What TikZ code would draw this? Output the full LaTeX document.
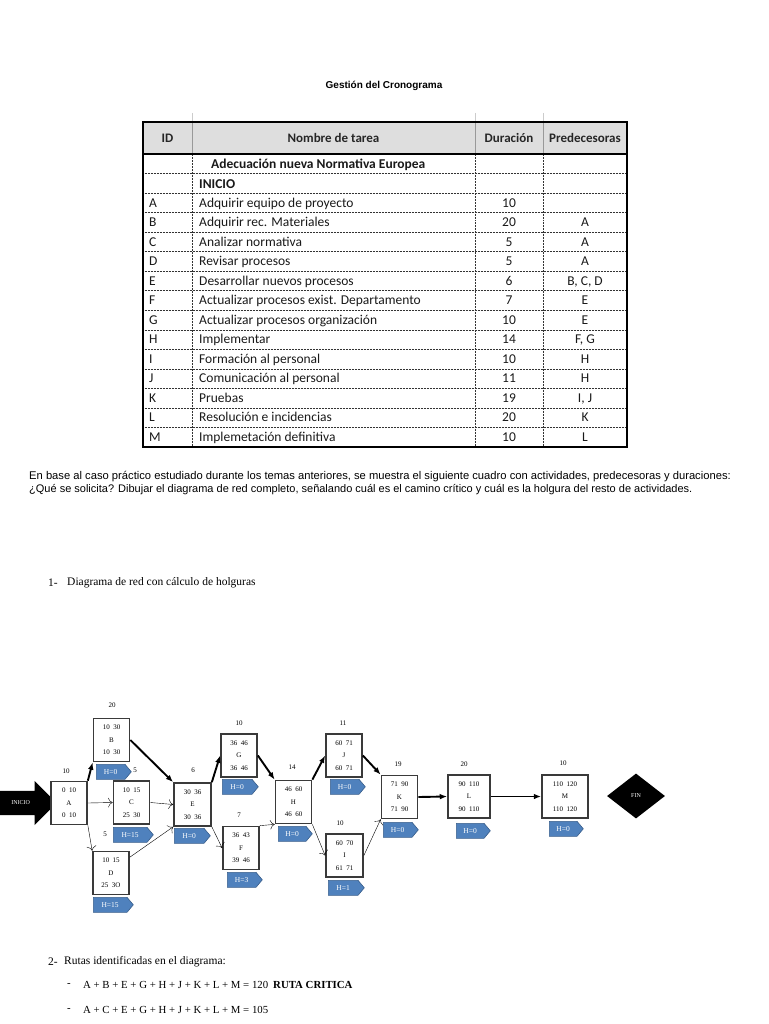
\documentclass[tikz,border=0pt]{standalone}
\usepackage{fontspec}
\setmainfont{Liberation Serif}
\newfontfamily\tablafont{Carlito}
\newfontfamily\textofont{Liberation Sans}
\usetikzlibrary{arrows.meta, positioning, shapes.geometric, shapes.symbols, shapes.arrows}
\definecolor{tagazul}{HTML}{4F81BD}
\definecolor{tagborde}{HTML}{385D8A}
\definecolor{cabecera}{HTML}{DEDEDE}
\definecolor{cajaborde}{HTML}{3A3A3A}

\begin{document}
\begin{tikzpicture}[
    x=1pt,
    y=-1pt,
    font=\fontsize{7}{8}\selectfont,
    tarea/.style={draw=cajaborde, line width=1.7pt, fill=white, minimum height=43pt,
      inner sep=0pt, align=center, font=\fontsize{7}{12.5}\selectfont},
    holgura/.style={signal, signal to=east, signal pointer angle=100, fill=tagazul,
      draw=tagborde, line width=0.6pt, text=white, minimum height=15pt, inner sep=0pt,
      anchor=north west, font=\fontsize{7.5}{8}\selectfont},
    critica/.style={-{Latex[length=2.6mm, width=2mm]}, line width=1.9pt},
    normal/.style={-{To[length=1.6mm]}, line width=0.4pt},
    celda/.style={font=\tablafont\fontsize{13.5}{15}\selectfont, inner sep=0pt, text=black!90,
      text height=8.5pt, text depth=0pt},
    cabeza/.style={font=\tablafont\bfseries\fontsize{13}{15}\selectfont, inner sep=0pt, text=black!85,
      text height=8.5pt, text depth=0pt},
    rejilla/.style={densely dotted, line width=0.5pt, black!80},
    serifa/.style={anchor=west, inner sep=0pt, font=\fontsize{11.5}{14}\selectfont},
    ruta/.style={anchor=west, inner sep=0pt, font=\fontsize{10.8}{13}\selectfont}
  ]
  \useasboundingbox (0,0) rectangle (768,1024);
  \node[font=\textofont\bfseries\fontsize{10}{12}\selectfont] (titulo) at (384,86) {Gestión del Cronograma};

  \foreach \x in {192,475,543}
    \draw[black!20] (\x,113) -- (\x,122);
  \fill[cabecera] (143,122) rectangle (627,154);
  \foreach \x in {192,475,543} {
    \draw[black!40] (\x,122) -- (\x,154);
    \draw[rejilla] (\x,154) -- (\x,447);
  }
  \foreach \i in {1,...,14}
    \draw[rejilla] (143,{154+\i*19.53}) -- (627,{154+\i*19.53});
  \draw[line width=1.5pt] (143,154) -- (627,154);
  \draw[line width=2pt] (143,122) rectangle (627,447);
  \node[cabeza] (hid) at (167.5,138) {ID};
  \node[cabeza] (hnom) at (333.5,138) {Nombre de tarea};
  \node[cabeza] (hdur) at (509,138) {Duración};
  \node[cabeza] (hpre) at (585,138) {Predecesoras};
  \node[celda, font=\tablafont\bfseries\fontsize{13.5}{15}\selectfont, anchor=west] (proyecto) at (211,164) {Adecuación nueva Normativa Europea};
  \node[celda, font=\tablafont\bfseries\fontsize{13.5}{15}\selectfont, anchor=west] (tinicio) at (199,184) {INICIO};
  \foreach \id/\nom/\dur/\pre [count=\r from 3] in {A/Adquirir equipo de proyecto/10/,
      B/Adquirir rec. Materiales/20/A, C/Analizar normativa/5/A, D/Revisar procesos/5/A,
      E/Desarrollar nuevos procesos/6/{B, C, D}, F/Actualizar procesos exist. Departamento/7/E,
      G/Actualizar procesos organización/10/E, H/Implementar/14/{F, G},
      I/Formación al personal/10/H, J/Comunicación al personal/11/H, K/Pruebas/19/{I, J},
      L/Resolución e incidencias/20/K, M/Implemetación definitiva/10/L} {
    \node[celda, anchor=west] (tid\id) at (149,{154+(\r-0.5)*19.53}) {\id};
    \node[celda, anchor=west] (tnom\id) at (199,{154+(\r-0.5)*19.53}) {\nom};
    \node[celda] (tdur\id) at (509,{154+(\r-0.5)*19.53}) {\dur};
    \node[celda] (tpre\id) at (585,{154+(\r-0.5)*19.53}) {\pre};
  }

  \node[anchor=west, inner sep=0pt, font=\textofont\fontsize{11.2}{13}\selectfont] (parrafo1) at (29,477)
    {En base al caso práctico estudiado durante los temas anteriores, se muestra el siguiente cuadro con actividades, predecesoras y duraciones:};
  \node[anchor=west, inner sep=0pt, font=\textofont\fontsize{11}{13}\selectfont] (parrafo2) at (29,490)
    {¿Qué se solicita? Dibujar el diagrama de red completo, señalando cuál es el camino crítico y cuál es la holgura del resto de actividades.};
  \node[serifa] (punto1) at (48,583) {1-};
  \node[serifa] (texto1) at (67,583) {Diagrama de red con cálculo de holguras};

  \node[single arrow, fill=black, text=white, single arrow head extend=10pt, minimum height=60pt,
    inner ysep=10pt, inner xsep=4pt, anchor=tip, font=\fontsize{6}{7}\selectfont] (inicio) at (57,803) {INICIO};
  \foreach \n/\x/\y/\w/\ia/\ib/\fa/\fb in {A/69/803/36/0/10/0/10, B/111.5/740/36/10/30/10/30,
      C/131.5/802.5/36/10/15/25/30, D/111/873/36/10/15/25/3O, E/192.5/804.5/37/30/36/30/36,
      G/239/755.5/36/36/46/36/46, F/241/848/36/36/43/39/46, H/293.5/802/36/46/60/46/60,
      J/344/755.5/36/60/71/60/71, I/344.5/855.5/37/60/70/61/71, K/399.5/797/36/71/90/71/90,
      L/469/796.5/42/90/110/90/110, M/565/796.5/46/110/120/110/120}
    \node[tarea, minimum width=\w pt] (\n) at (\x,\y) {\ia\enspace\ib\\\n\\\fa\enspace\fb};
  \node[diamond, fill=black, text=white, minimum width=58pt, minimum height=45pt, inner sep=0pt,
    font=\fontsize{6}{7}\selectfont] (fin) at (636,796) {FIN};

  \foreach \n/\x/\y/\d in {A/66/771/10, B/112/705/20, C/135/770/5, D/105/834/5, E/193/770/6,
      G/239/723/10, F/239/815/7, H/292/767/14, J/343/723/11, I/340/823/10, K/398/764/19,
      L/464/764/20, M/563/763/10}
    \node (dur\n) at (\x,\y) {\d};
  \foreach \n/\x/\y/\w/\h in {B/96/764/35/0, C/113/827/40/15, D/93/897/40/15, E/174/828/36/0,
      G/222/779/36/0, F/227/872/35/3, H/278/826/34/0, J/330/779/35/0, I/328/880/36/1,
      K/383/822/35/0, L/456/823/34/0, M/549/821/34/0}
    \node[holgura, minimum width=\w pt] (h\n) at (\x,\y) {H=\h};

  \draw[critica] (A.north east) -- (B.south west);
  \draw[normal] (A.east) -- (C.west);
  \draw[normal] (A.south east) -- (D.north west);
  \draw[critica] (B.east) -- (E.north west);
  \draw[normal] (C.east) -- (E.west);
  \draw[normal] (D.40) -- (E.south west);
  \draw[critica] (E.north east) -- (G.west);
  \draw[normal] (E.south east) -- (F.west);
  \draw[critica] (G.east) -- (H.north west);
  \draw[normal] (F.north east) -- (H.south west);
  \draw[critica] (H.north east) -- (J.west);
  \draw[normal] (H.south east) -- (I.west);
  \draw[critica] (J.east) -- (K.north west);
  \draw[normal] (I.east) -- (K.south west);
  \draw[critica] (K.east) -- (L.west);
  \draw[critica] (L.east) -- (M.west);

  \node[serifa] (punto2) at (48,962) {2-};
  \node[serifa] (texto2) at (64,962) {Rutas identificadas en el diagrama:};
  \node[ruta] (guion1) at (67,985) {-};
  \node[ruta] (ruta1) at (83,985) {A + B + E + G + H + J + K + L + M = 120\hspace{5pt}\textbf{RUTA CRITICA}};
  \node[ruta] (guion2) at (67,1010) {-};
  \node[ruta] (ruta2) at (83,1010) {A + C + E + G + H + J + K + L + M = 105};
\end{tikzpicture}
\end{document}
